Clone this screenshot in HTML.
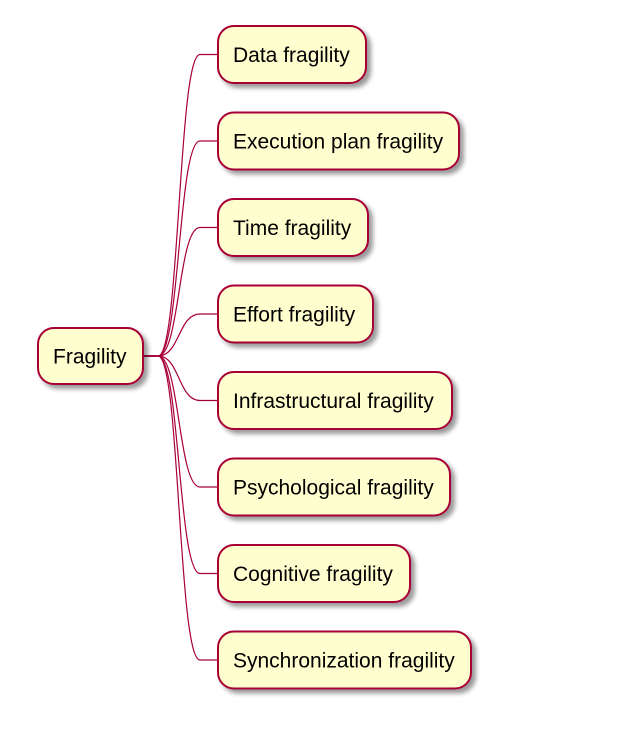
<!DOCTYPE html>
<html><head><meta charset="utf-8">
<style>
html,body{margin:0;padding:0;background:#fff;}
svg{display:block;}
text{font-family:"Liberation Sans",sans-serif;font-size:21px;fill:#000;}
</style></head>
<body>
<svg id="map" width="622" height="745" viewBox="0 0 622 745" xmlns="http://www.w3.org/2000/svg">
<defs>
<filter id="sh" x="-20%" y="-20%" width="150%" height="160%">
<feGaussianBlur in="SourceAlpha" stdDeviation="2.5"/>
<feOffset dx="4" dy="4" result="o"/>
<feComponentTransfer><feFuncA type="linear" slope="0.4"/></feComponentTransfer>
<feMerge><feMergeNode/><feMergeNode in="SourceGraphic"/></feMerge>
</filter>
</defs>
<g id="links"></g>
<g id="nodes"></g>
</svg>
<script>
const labels = ["Data fragility","Execution plan fragility","Time fragility","Effort fragility","Infrastructural fragility","Psychological fragility","Cognitive fragility","Synchronization fragility"];
const widths = [148,241,150,155,234,232,192,253];
const NS="http://www.w3.org/2000/svg";
const links=document.getElementById('links'), nodes=document.getElementById('nodes');
function box(x,y,w,h,label,name){
  const g=document.createElementNS(NS,'g');
  
  
  const r=document.createElementNS(NS,'rect');
  r.setAttribute('x',x);r.setAttribute('y',y);r.setAttribute('width',w);r.setAttribute('height',h);
  r.setAttribute('rx',16);r.setAttribute('ry',16);
  r.setAttribute('fill','#FEFECE');r.setAttribute('stroke','#A80036');r.setAttribute('stroke-width','2');
  r.setAttribute('filter','url(#sh)');
  const t=document.createElementNS(NS,'text');
  t.setAttribute('x',x+15);t.setAttribute('y',y+h/2+7.5);
  t.textContent=label;
  g.appendChild(r);g.appendChild(t);nodes.appendChild(g);
}
const rootCy=356;
box(38,328,105,56,"Fragility","root-node-fragility");
labels.forEach((lab,i)=>{
  const top=26+i*86.5, cy=top+28.5;
  const p=document.createElementNS(NS,'path');
  p.setAttribute('d',`M143,${rootCy} L158,${rootCy} C180,${rootCy} 178,${cy} 200,${cy} L218,${cy}`);
  p.setAttribute('fill','none');p.setAttribute('stroke','#A80036');p.setAttribute('stroke-width','1.2');
  
  
  links.appendChild(p);
  box(218,top,widths[i],57,lab,'node-'+lab.toLowerCase().replace(/ /g,'-'));
});
</script>
</body></html>
